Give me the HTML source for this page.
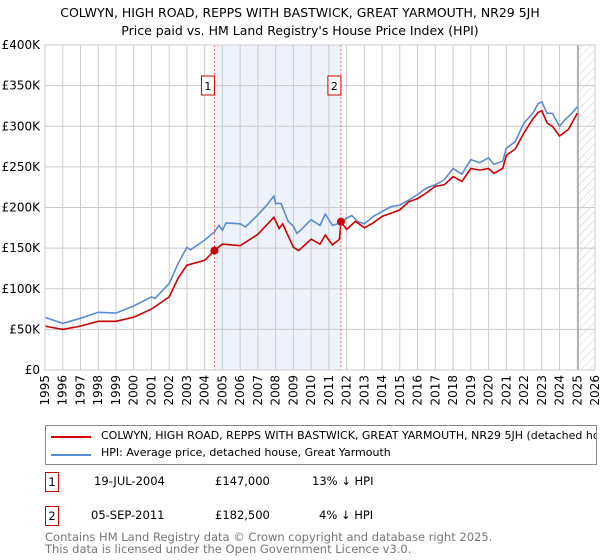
<!DOCTYPE html>
<html><head><meta charset="utf-8"><style>
body{margin:0;background:#fff;font-family:"DejaVu Sans","Liberation Sans",sans-serif;}
#wrap{position:relative;width:600px;height:560px;overflow:hidden}
svg text{font-family:"DejaVu Sans","Liberation Sans",sans-serif}
</style></head><body><div id="wrap">
<svg id="c" width="600" height="560">
<defs><pattern id="hatch" width="6" height="6" patternUnits="userSpaceOnUse" patternTransform="rotate(45)"><line x1="0" y1="0" x2="0" y2="6" stroke="#ccc" stroke-width="1"/></pattern></defs>
<text x="300" y="17" text-anchor="middle" font-size="12.5">COLWYN, HIGH ROAD, REPPS WITH BASTWICK, GREAT YARMOUTH, NR29 5JH</text>
<text x="300" y="35" text-anchor="middle" font-size="12.5">Price paid vs. HM Land Registry's House Price Index (HPI)</text>
<g id="plot"></g>
</svg>
<div style="position:absolute;left:45px;top:425px;width:550px;height:38px;border:1px solid #888;font-size:11px;overflow:hidden">
<div style="position:absolute;left:5px;top:10px;width:40px;border-top:2px solid #c00"></div>
<div style="position:absolute;left:55px;top:3px;white-space:nowrap">COLWYN, HIGH ROAD, REPPS WITH BASTWICK, GREAT YARMOUTH, NR29 5JH (detached house)</div>
<div style="position:absolute;left:5px;top:28px;width:40px;border-top:2px solid #5b8bd0"></div>
<div style="position:absolute;left:55px;top:20px;white-space:nowrap">HPI: Average price, detached house, Great Yarmouth</div>
</div>
<div style="font-size:11.5px">
<div style="position:absolute;left:45px;top:472px;width:12px;height:18px;border:1px solid #c00;text-align:center;line-height:18px">1</div>
<div style="position:absolute;left:94px;top:474px">19-JUL-2004</div>
<div style="position:absolute;left:215px;top:474px">£147,000</div>
<div style="position:absolute;left:312px;top:474px">13% ↓ HPI</div>
<div style="position:absolute;left:45px;top:506px;width:12px;height:18px;border:1px solid #c00;text-align:center;line-height:18px">2</div>
<div style="position:absolute;left:91px;top:508px">05-SEP-2011</div>
<div style="position:absolute;left:215px;top:508px">£182,500</div>
<div style="position:absolute;left:319px;top:508px">4% ↓ HPI</div>
</div>
<div style="position:absolute;left:45px;top:531px;font-size:11.5px;color:#777;line-height:12px">Contains HM Land Registry data © Crown copyright and database right 2025.<br>This data is licensed under the Open Government Licence v3.0.</div>
</div>
<script>
const hpiYears=[1995,1996,1997,1998,1999,2000,2001,2001.2,2002,2002.5,2003,2003.2,2004,2004.55,2004.8,2005,2005.2,2006,2006.3,2007,2007.5,2007.9,2008,2008.3,2008.7,2009,2009.2,2009.4,2010,2010.5,2010.8,2011.2,2011.68,2012,2012.3,2012.6,2013,2013.5,2014,2014.5,2015,2015.5,2016,2016.5,2017,2017.5,2018,2018.5,2019,2019.5,2020,2020.3,2020.8,2021,2021.5,2022,2022.5,2022.8,2023,2023.3,2023.6,2024,2024.3,2024.7,2025];
const hpiValues=[64.8,57.4,63.6,71,70,78.8,90,88,106.6,131,151,148,160,170,178,172,181,180,176,191,203,214,205,205,183,177,168,172,185,178,192,178,181,187,190,183,180,189,195,201,203,209,216,224,228,234,248,241,259,255,261,253,257,273,281,304,316,328,330,316,316,300,308,316,324];
const propYears=[1995,1996,1997,1998,1999,2000,2001,2002,2002.5,2003,2004,2004.55,2005,2006,2007,2007.9,2008.2,2008.4,2009,2009.3,2010,2010.5,2010.8,2011.2,2011.6,2011.68,2012,2012.5,2013,2013.5,2014,2014.5,2015,2015.5,2016,2016.5,2017,2017.5,2018,2018.5,2019,2019.5,2020,2020.3,2020.8,2021,2021.5,2022,2022.5,2022.8,2023,2023.3,2023.6,2024,2024.5,2025];
const propValues=[54,50,54,60,60,65,75,90,113,129,135,147,155,153,167,188,174,180,151,147,161,155,166,154,161,182.5,173,183,175,181,189,193,197,207,211,218,226,228,238,232,248,246,248,242,248,264,272,292,309,317,319,304,300,288,296,316];
const saleYears=[2004.55,2011.68];
const saleValues=[147,182.5];
const saleLabels=["1","2"];
const yTicks=[0,50,100,150,200,250,300,350,400];
const yTickLabels=["£0","£50K","£100K","£150K","£200K","£250K","£300K","£350K","£400K"];
const xTicks=[1995,1996,1997,1998,1999,2000,2001,2002,2003,2004,2005,2006,2007,2008,2009,2010,2011,2012,2013,2014,2015,2016,2017,2018,2019,2020,2021,2022,2023,2024,2025,2026];
const X0=45,X1=595,Y0=370,Y1=45;
const xs=y=>X0+(y-1995)/(2026-1995)*(X1-X0);
const ys=v=>Y0-v/400*(Y0-Y1);
const NS="http://www.w3.org/2000/svg";
const g=document.getElementById('plot');
function el(t,a){const e=document.createElementNS(NS,t);for(const k in a)e.setAttribute(k,a[k]);g.appendChild(e);return e;}
let r=el('rect',{x:xs(saleYears[0]),y:Y1,width:xs(saleYears[1])-xs(saleYears[0]),height:Y0-Y1,fill:'#eef2fb'});


r=el('rect',{x:xs(2025.05),y:Y1,width:X1-xs(2025.05),height:Y0-Y1,fill:'url(#hatch)'});


yTicks.forEach((v,i)=>{
 let l=el('line',{x1:X0,x2:X1,y1:ys(v),y2:ys(v),stroke:'#ccc'});
 
 
 let t=el('text',{x:40,y:ys(v)+4,'text-anchor':'end','font-size':'12'});t.textContent=yTickLabels[i];
 
 
});
xTicks.forEach(y=>{
 let l=el('line',{x1:xs(y),x2:xs(y),y1:Y1,y2:Y0,stroke:'#ccc'});
 
 
 let t=el('text',{x:0,y:0,'text-anchor':'end','font-size':'12',transform:`translate(${xs(y)+4},375) rotate(-90)`});t.textContent=y;
 
 
});
let hl=el('line',{x1:xs(2025.05),x2:xs(2025.05),y1:Y1,y2:Y0,stroke:'#888'});


function path(xa,va,col,name){
 const d=xa.map((x,i)=>(i?'L':'M')+xs(x).toFixed(1)+','+ys(va[i]).toFixed(1)).join('');
 const p=el('path',{d:d,fill:'none',stroke:col,'stroke-width':'1.6'});
 
 
}
path(hpiYears,hpiValues,'#5b8bd0','hpi-line');
path(propYears,propValues,'#c00','property-price-line');
saleYears.forEach((y,i)=>{
 let l=el('line',{x1:xs(y),x2:xs(y),y1:Y1,y2:Y0,stroke:'#e66','stroke-dasharray':'2,2'});
 
 
 let c=el('circle',{cx:xs(y),cy:ys(saleValues[i]),r:4,fill:'#c00'});
 
 
 let b=el('rect',{x:xs(y)-13,y:76,width:13,height:19,fill:'#fff',stroke:'#c00'});
 
 
 let t=el('text',{x:xs(y)-6.5,y:90,'text-anchor':'middle','font-size':'11'});t.textContent=saleLabels[i];
 
 
});
let fr=el('rect',{x:X0,y:Y1,width:X1-X0,height:Y0-Y1,fill:'none',stroke:'#ccc'});


</script>
</body></html>
